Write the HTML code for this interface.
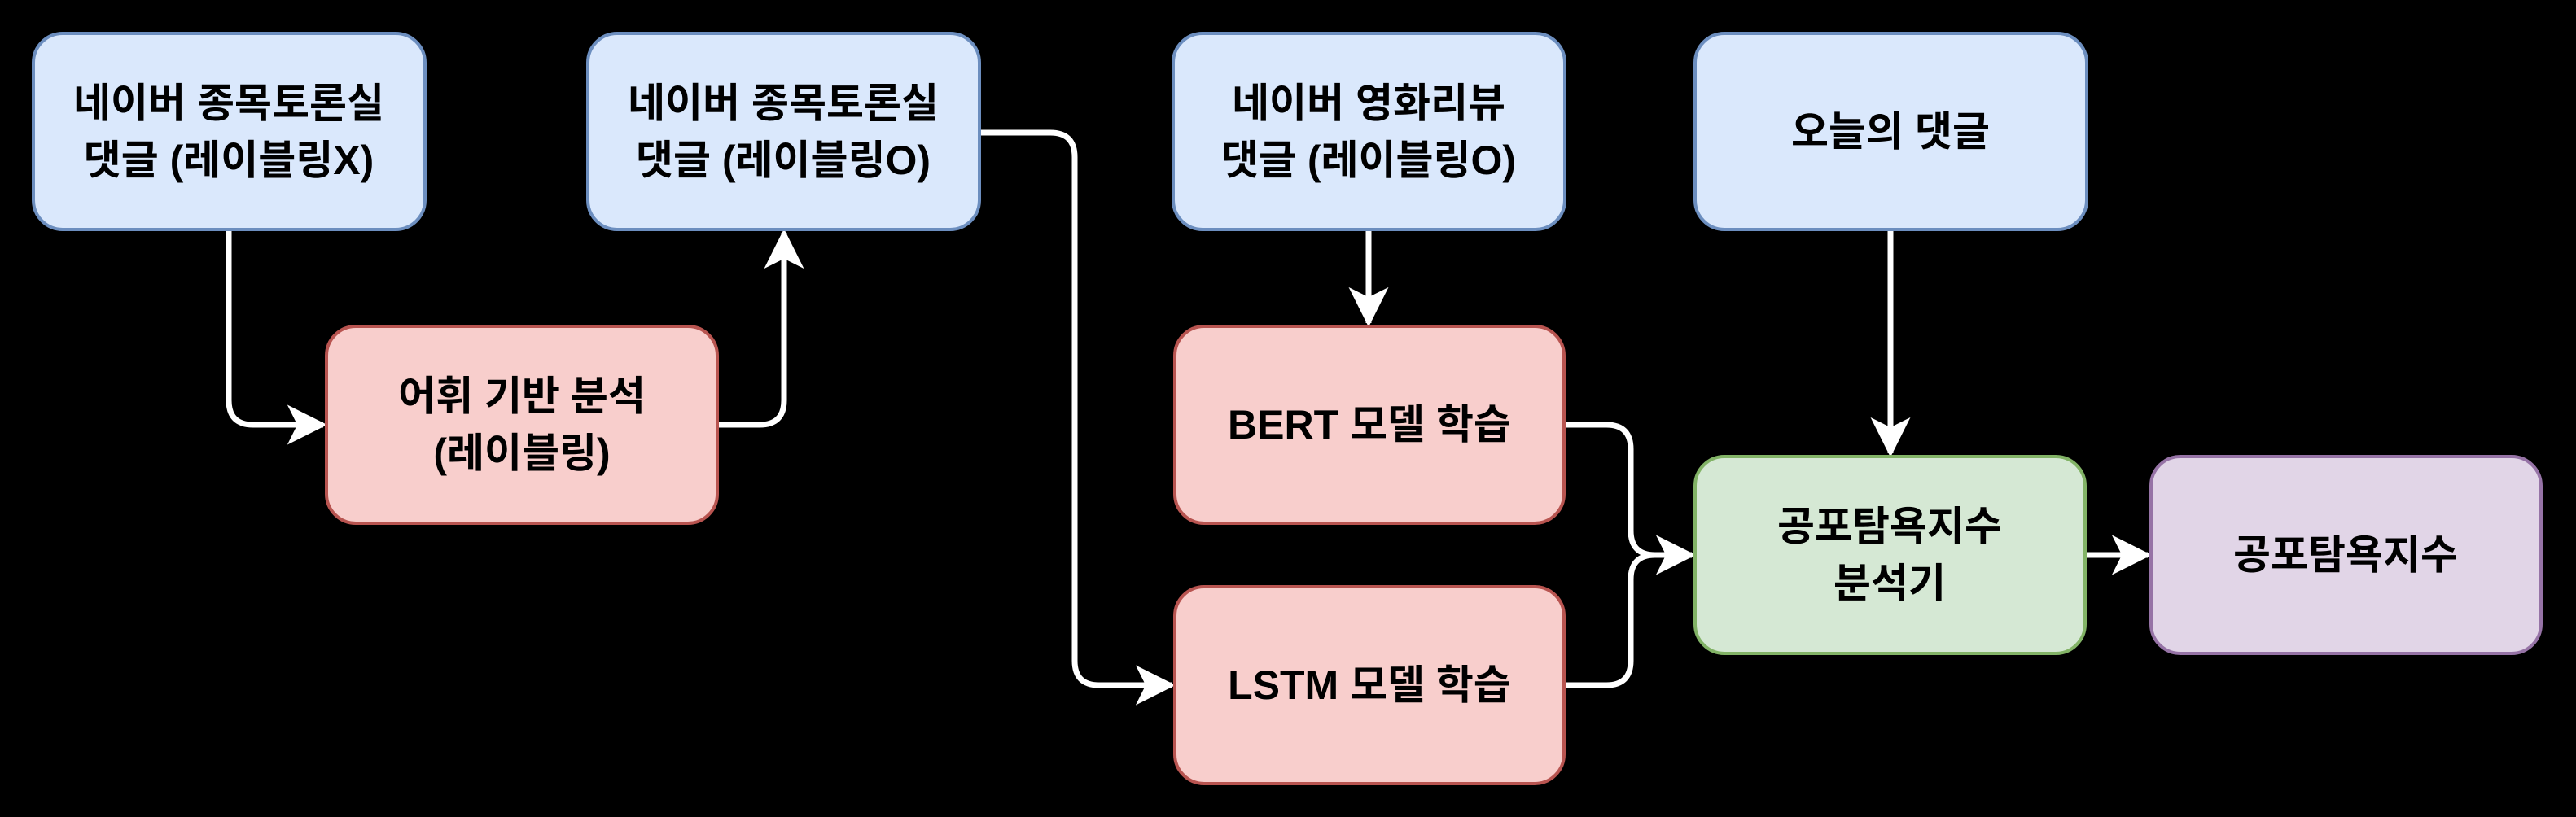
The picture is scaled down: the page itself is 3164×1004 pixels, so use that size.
<!DOCTYPE html>
<html><head><meta charset="utf-8"><style>
html,body{margin:0;padding:0;background:#000;}
svg{display:block}
text{font-family:"Liberation Sans","Noto Sans CJK KR","NanumGothic",sans-serif;font-weight:bold;font-size:50px;fill:#000;text-anchor:middle;}
</style></head><body>
<svg width="3164" height="1004" viewBox="0 0 3164 1004" xmlns="http://www.w3.org/2000/svg">
<defs>
<marker id="a" viewBox="0 0 20 20" refX="18" refY="10" markerWidth="7" markerHeight="7" markerUnits="strokeWidth" orient="auto">
<path d="M0,0 L20,10 L0,20 L5,10 Z" fill="#fff"/>
</marker>
</defs>
<g fill="none" stroke="#fff" stroke-width="7" stroke-linejoin="round">
<path d="M281,282 V492 Q281,522 311,522 H397" marker-end="url(#a)"/>
<path d="M881,522 H933 Q963,522 963,492 V286" marker-end="url(#a)"/>
<path d="M1203,163 H1290 Q1320,163 1320,193 V812 Q1320,842 1350,842 H1439" marker-end="url(#a)"/>
<path d="M1681,282 V397" marker-end="url(#a)"/>
<path d="M2322,282 V557" marker-end="url(#a)"/>
<path d="M1921,522 H1973 Q2003,522 2003,552 V652 Q2003,682 2033,682 H2078" marker-end="url(#a)"/>
<path d="M1921,842 H1973 Q2003,842 2003,812 V712 Q2003,682 2033,682"/>
<path d="M2561,682 H2638" marker-end="url(#a)"/>
</g>
<g stroke-width="4">
<rect x="41" y="41" width="481" height="241" rx="36" fill="#dae8fc" stroke="#6c8ebf"/>
<rect x="722" y="41" width="481" height="241" rx="36" fill="#dae8fc" stroke="#6c8ebf"/>
<rect x="1441" y="41" width="481" height="241" rx="36" fill="#dae8fc" stroke="#6c8ebf"/>
<rect x="2082" y="41" width="481" height="241" rx="36" fill="#dae8fc" stroke="#6c8ebf"/>
<rect x="401" y="401" width="480" height="242" rx="36" fill="#f8cecc" stroke="#b85450"/>
<rect x="1443" y="401" width="478" height="242" rx="36" fill="#f8cecc" stroke="#b85450"/>
<rect x="1443" y="721" width="478" height="242" rx="36" fill="#f8cecc" stroke="#b85450"/>
<rect x="2082" y="561" width="479" height="242" rx="36" fill="#d5e8d4" stroke="#82b366"/>
<rect x="2642" y="561" width="479" height="242" rx="36" fill="#e1d5e7" stroke="#9673a6"/>
</g>
<text x="281" y="144">네이버 종목토론실</text>
<text x="281" y="214">댓글 (레이블링X)</text>
<text x="962" y="144">네이버 종목토론실</text>
<text x="962" y="214">댓글 (레이블링O)</text>
<text x="1681" y="144">네이버 영화리뷰</text>
<text x="1681" y="214">댓글 (레이블링O)</text>
<text x="2322" y="179">오늘의 댓글</text>
<text x="641" y="504">어휘 기반 분석</text>
<text x="641" y="574">(레이블링)</text>
<text x="1682" y="539">BERT 모델 학습</text>
<text x="1682" y="859">LSTM 모델 학습</text>
<text x="2321" y="664">공포탐욕지수</text>
<text x="2321" y="734">분석기</text>
<text x="2881" y="699">공포탐욕지수</text>
</svg>
</body></html>
